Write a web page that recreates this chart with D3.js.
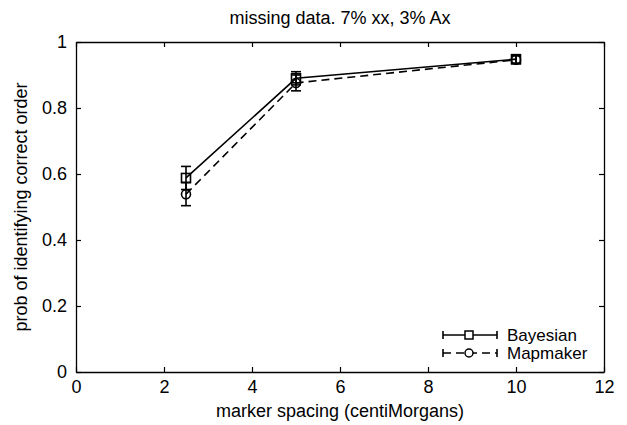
<!DOCTYPE html>
<html>
<head>
<meta charset="utf-8">
<script src="https://cdn.jsdelivr.net/npm/d3@7"></script>
<style>
  body { margin: 0; background: #fff; }
  text { font-family: "Liberation Sans", Arial, sans-serif; fill: #000; }
</style>
</head>
<body>
<div class="chart"></div>
<script>
const spacing = [2.5, 5, 10];
const bayesian = [0.588, 0.890, 0.948];
const bayesianErr = [0.035, 0.020, 0.012];
const mapmaker = [0.539, 0.876, 0.946];
const mapmakerErr = [0.035, 0.024, 0.012];
const xTicks = [0, 2, 4, 6, 8, 10, 12];
const yTicks = [0, 0.2, 0.4, 0.6, 0.8, 1];

const width = 627, height = 425;
const plotLeft = 76, plotRight = 604, plotTop = 42, plotBottom = 372;

const svg = d3.select(".chart").append("svg")
    .attr("width", width)
    .attr("height", height);

const x = d3.scaleLinear().domain([0, 12]).range([plotLeft, plotRight]);
const y = d3.scaleLinear().domain([0, 1]).range([plotBottom, plotTop]);

// frame with inward ticks on all four sides
svg.append("g").attr("transform", `translate(0,${plotBottom})`)
    .call(d3.axisBottom(x).tickValues(xTicks).tickSizeInner(-5).tickSizeOuter(0).tickPadding(8).tickFormat(d3.format("d")));
svg.append("g").attr("transform", `translate(0,${plotTop})`)
    .call(d3.axisTop(x).tickValues(xTicks).tickSizeInner(-5).tickSizeOuter(0).tickFormat(""));
svg.append("g").attr("transform", `translate(${plotLeft},0)`)
    .call(d3.axisLeft(y).tickValues(yTicks).tickSizeInner(-5).tickSizeOuter(0).tickPadding(9).tickFormat(d => d === 0 || d === 1 ? d3.format("d")(d) : d3.format(".1f")(d)));
svg.append("g").attr("transform", `translate(${plotRight},0)`)
    .call(d3.axisRight(y).tickValues(yTicks).tickSizeInner(-5).tickSizeOuter(0).tickFormat(""));

svg.selectAll(".domain").attr("stroke", "#000").attr("stroke-width", 1.3);
svg.selectAll(".tick line").attr("stroke", "#000").attr("stroke-width", 1.2);
svg.selectAll(".tick text").style("font-size", "18px").attr("fill", "#000");

svg.append("text")
    .attr("x", (plotLeft + plotRight) / 2).attr("y", 24)
    .attr("text-anchor", "middle")
    .style("font-size", "18px")
    .text("missing data. 7% xx, 3% Ax");

svg.append("text")
    .attr("x", (plotLeft + plotRight) / 2).attr("y", 417)
    .attr("text-anchor", "middle")
    .style("font-size", "18px")
    .text("marker spacing (centiMorgans)");

svg.append("text")
    .attr("transform", `translate(27, ${(plotTop + plotBottom) / 2}) rotate(-90)`)
    .attr("text-anchor", "middle")
    .style("font-size", "18px")
    .text("prob of identifying correct order");

const series = [
    {name: "Bayesian", vals: bayesian, err: bayesianErr, dash: null, marker: "square"},
    {name: "Mapmaker", vals: mapmaker, err: mapmakerErr, dash: "8,5", marker: "circle"}
];

const line = d3.line().x((d, i) => x(spacing[i])).y(d => y(d));

series.forEach(s => {
    const g = svg.append("g");
    g.append("path")
        .attr("d", line(s.vals))
        .attr("fill", "none")
        .attr("stroke", "#000")
        .attr("stroke-width", 1.6)
        .attr("stroke-dasharray", s.dash);

    s.vals.forEach((v, i) => {
        const cx = x(spacing[i]);
        const lo = y(v - s.err[i]), hi = y(v + s.err[i]);
        g.append("line").attr("x1", cx).attr("x2", cx).attr("y1", lo).attr("y2", hi)
            .attr("stroke", "#000").attr("stroke-width", 1.6);
        [lo, hi].forEach(yy => g.append("line")
            .attr("x1", cx - 5).attr("x2", cx + 5).attr("y1", yy).attr("y2", yy)
            .attr("stroke", "#000").attr("stroke-width", 1.6));
        if (s.marker === "square") {
            g.append("rect").attr("x", cx - 4.5).attr("y", y(v) - 4.5).attr("width", 9).attr("height", 9)
                .attr("fill", "none").attr("stroke", "#000").attr("stroke-width", 1.6);
        } else {
            g.append("circle").attr("cx", cx).attr("cy", y(v)).attr("r", 4.5)
                .attr("fill", "none").attr("stroke", "#000").attr("stroke-width", 1.6);
        }
    });
});

// legend
const legend = svg.append("g");
series.forEach((s, i) => {
    const ly = 335 + i * 18;
    const x0 = 443, x1 = 497, xm = 469;
    legend.append("line").attr("x1", x0).attr("x2", x1).attr("y1", ly).attr("y2", ly)
        .attr("stroke", "#000").attr("stroke-width", 1.6).attr("stroke-dasharray", s.dash);
    [x0, x1].forEach(xx => legend.append("line")
        .attr("x1", xx).attr("x2", xx).attr("y1", ly - 4).attr("y2", ly + 4)
        .attr("stroke", "#000").attr("stroke-width", 1.6));
    if (s.marker === "square") {
        legend.append("rect").attr("x", xm - 4).attr("y", ly - 4).attr("width", 8).attr("height", 8)
            .attr("fill", "#fff").attr("stroke", "#000").attr("stroke-width", 1.5);
    } else {
        legend.append("circle").attr("cx", xm).attr("cy", ly).attr("r", 4)
            .attr("fill", "#fff").attr("stroke", "#000").attr("stroke-width", 1.5);
    }
    legend.append("text").attr("x", 507).attr("y", ly + 6)
        .style("font-size", "17px")
        .text(s.name);
});
</script>
</body>
</html>
